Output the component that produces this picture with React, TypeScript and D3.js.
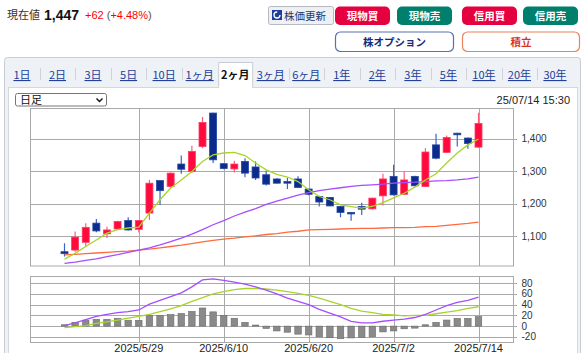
import React from "react";
import * as d3 from "d3";

// trading days shown on the 2-month daily chart
const dates = [
  "2025/5/20", "2025/5/21", "2025/5/22", "2025/5/23", "2025/5/26", "2025/5/27", "2025/5/28", "2025/5/29",
  "2025/5/30", "2025/6/2", "2025/6/3", "2025/6/4", "2025/6/5", "2025/6/6", "2025/6/9", "2025/6/10",
  "2025/6/11", "2025/6/12", "2025/6/13", "2025/6/16", "2025/6/17", "2025/6/18", "2025/6/19", "2025/6/20",
  "2025/6/23", "2025/6/24", "2025/6/25", "2025/6/26", "2025/6/27", "2025/6/30", "2025/7/1", "2025/7/2",
  "2025/7/3", "2025/7/4", "2025/7/7", "2025/7/8", "2025/7/9", "2025/7/10", "2025/7/11", "2025/7/14",
];

const opens = [
  1052, 1057, 1081, 1140, 1107, 1122, 1148, 1121, 1171, 1271, 1253, 1322, 1299, 1376, 1479, 1323,
  1307, 1330, 1313, 1289, 1276, 1268, 1276, 1245, 1222, 1219, 1191, 1173, 1191, 1184, 1224, 1284,
  1229, 1284, 1253, 1381, 1358, 1417, 1402, 1374,
];
const highs = [
  1078, 1114, 1140, 1153, 1129, 1147, 1158, 1150, 1273, 1271, 1296, 1348, 1378, 1467, 1480, 1325,
  1332, 1340, 1330, 1301, 1278, 1279, 1284, 1246, 1224, 1220, 1193, 1174, 1203, 1218, 1292, 1320,
  1299, 1286, 1371, 1415, 1410, 1418, 1404, 1480,
];
const lows = [
  1037, 1052, 1068, 1112, 1094, 1120, 1117, 1111, 1150, 1196, 1250, 1292, 1294, 1371, 1325, 1306,
  1296, 1281, 1273, 1256, 1262, 1245, 1248, 1226, 1191, 1192, 1158, 1147, 1165, 1182, 1194, 1225,
  1227, 1253, 1251, 1337, 1356, 1376, 1369, 1372,
];
const closes = [
  1046, 1097, 1127, 1116, 1119, 1145, 1119, 1148, 1263, 1240, 1294, 1306, 1361, 1450, 1335, 1308,
  1322, 1294, 1279, 1260, 1263, 1263, 1250, 1229, 1205, 1193, 1173, 1169, 1183, 1217, 1276, 1227,
  1273, 1255, 1359, 1340, 1404, 1412, 1385, 1447,
];

// moving averages
const ma5 = [
  1029, 1047, 1068, 1088, 1109, 1120, 1125, 1128, 1171, 1212, 1248, 1273, 1299, 1330, 1350, 1356,
  1358, 1348, 1325, 1304, 1290, 1282, 1268, 1243, 1222, 1212, 1196, 1191, 1186, 1192, 1203, 1218,
  1232, 1251, 1273, 1292, 1325, 1356, 1381, 1399,
];
const ma25 = [
  1016, 1020, 1025, 1030, 1037, 1043, 1050, 1057, 1064, 1073, 1083, 1094, 1106, 1120, 1135, 1148,
  1162, 1174, 1185, 1198, 1208, 1217, 1226, 1234, 1240, 1245, 1249, 1253, 1256, 1258, 1260, 1263,
  1265, 1266, 1268, 1270, 1271, 1273, 1276, 1282,
];
const ma75 = [
  1042, 1044, 1046, 1048, 1050, 1052, 1054, 1057, 1060, 1064, 1068, 1072, 1077, 1082, 1087, 1091,
  1094, 1098, 1101, 1105, 1108, 1112, 1115, 1119, 1120, 1121, 1122, 1123, 1124, 1124, 1125, 1126,
  1126, 1127, 1129, 1130, 1133, 1136, 1139, 1143,
];

// MACD panel
const macd = [
  1, 6, 12, 18, 22, 25, 27, 30, 41, 48, 55, 62, 73, 86, 88, 85,
  82, 78, 73, 67, 60, 52, 46, 40, 31, 24, 17, 9, 6, 6, 9, 11,
  13, 16, 22, 30, 38, 44, 48, 54,
];
const signal = [
  -3, -1, 1, 5, 8, 11, 15, 18, 22, 27, 32, 38, 46, 53, 60, 64,
  68, 70, 70, 69, 67, 64, 61, 57, 52, 46, 40, 33, 28, 25, 22, 21,
  19, 20, 20, 23, 26, 29, 33, 36,
];
const hist = [
  2.5, 7, 11, 12.7, 12.7, 14.6, 11, 10.8, 20, 19.7, 21.6, 23.5, 27.3, 33.7, 26.5, 20,
  14.6, 7, 2, -4.4, -9, -11.4, -15, -16.5, -20, -21.6, -23.5, -22, -21, -20, -10.8, -9,
  -5, -3.8, 2.5, 7, 11.3, 14.4, 14.4, 17.6,
];

const priceTicks = [1100, 1200, 1300, 1400];
const macdTicks = [80, 60, 40, 20, 0, -20];
const gridDates = ["2025/5/29", "2025/6/10", "2025/6/20", "2025/7/2", "2025/7/14"];
const tabs = ["1日", "2日", "3日", "5日", "10日", "1ヶ月", "2ヶ月", "3ヶ月", "6ヶ月", "1年", "2年", "3年", "5年", "10年", "20年", "30年"];
const activeTab = "2ヶ月";

const FONT = "'Liberation Sans', Arial, 'Noto Sans CJK JP', sans-serif";
const JP = "'Noto Sans CJK JP', 'Liberation Sans', sans-serif";
const UP = "#ff0a3c";
const DOWN = "#0b2c8c";
const GRID = "#a9a9a9";

const px = (v: number) => Math.round(v) + 0.5;

export default function App() {
  const left = 30, right = 513;
  const top = 108.5, bottom = 266;
  const mTop = 276.5, mBottom = 342.5;

  const x = d3.scaleLinear().domain([-3.25, 42.25]).range([left, right]);
  const y = d3.scaleLinear().domain([1008, 1493]).range([bottom, top]);
  const ym = d3.scaleLinear().domain([-30.5, 92.3]).range([mBottom, mTop]);
  const tabX = d3.scalePoint<string>().domain(tabs).range([22, 555]);

  const line = (vals: number[], sc: d3.ScaleLinear<number, number>) =>
    d3.line<number>().x((_, i) => x(i)).y((d) => sc(d))(vals) || "";

  const gridXs = gridDates.map((d) => px(x(dates.indexOf(d))));
  const bodyW = 7;
  const barW = 6.5;

  return (
    <div style={{ position: "absolute", left: 0, top: 0 }}>
      <svg width={586} height={353} style={{ display: "block", fontFamily: FONT }}>
        <rect width={586} height={353} fill="#fff" />

        {/* header */}
        <text x={7} y={19} fontSize={11} fill="#333" fontFamily={JP}>現在値</text>
        <text x={44} y={20} fontSize={14} fontWeight="bold" fill="#111">1,447</text>
        <text x={85} y={19} fontSize={11} fill="#f00">
          +62 <tspan fill="#555">(</tspan>+4.48%<tspan fill="#555">)</tspan>
        </text>

        <rect x={268.5} y={6.5} width={65} height={18} rx={2} fill="#eef0f3" stroke="#b5b9c0" />
        <rect x={272} y={10} width={10} height={10} fill="#1d3e9c" />
        <circle cx={277} cy={15} r={3} fill="none" stroke="#fff" strokeWidth={1.3} strokeDasharray="14 5" />
        <text x={284} y={19.5} fontSize={10.5} fill="#243a70" fontFamily={JP}>株価更新</text>

        {[
          { x0: 335, label: "現物買", c: "#e5003f" },
          { x0: 397, label: "現物売", c: "#007f6c" },
          { x0: 462, label: "信用買", c: "#e5003f" },
          { x0: 523, label: "信用売", c: "#007f6c" },
        ].map((b) => (
          <g key={b.label}>
            <rect x={b.x0} y={6.5} width={55} height={18.5} rx={5} fill={b.c} />
            <text x={b.x0 + 27.5} y={19.5} fontSize={10.5} fontWeight="bold" fill="#fff" textAnchor="middle" fontFamily={JP}>{b.label}</text>
          </g>
        ))}
        <rect x={335.5} y={32} width={118} height={19.5} rx={5} fill="#fff" stroke="#5b6fae" strokeWidth={1.2} />
        <text x={394.5} y={45.5} fontSize={10.5} fontWeight="bold" fill="#1c2a78" textAnchor="middle" fontFamily={JP}>株オプション</text>
        <rect x={462.5} y={32} width={117} height={19.5} rx={5} fill="#fff" stroke="#e8825f" strokeWidth={1.2} />
        <text x={521} y={45.5} fontSize={10.5} fontWeight="bold" fill="#d8361c" textAnchor="middle" fontFamily={JP}>積立</text>

        {/* panel + tabs */}
        <rect x={4.5} y={57.5} width={576} height={300} rx={3} fill="#eef1f5" stroke="#c9ccd2" />
        <rect x={8.5} y={87.5} width={569} height={270} fill="#fff" stroke="#d4d7dc" />
        {tabs.map((t, i) => {
          const cx = tabX(t) as number;
          const active = t === activeTab;
          return (
            <g key={t}>
              {active && (
                <path d={`M${cx - 16.5},88 V62.5 H${cx + 17.5} V88`} fill="#fff" stroke="#c9ccd2" />
              )}
              {active && <rect x={cx - 16} y={86} width={33} height={3} fill="#fff" />}
              <text
                x={cx}
                y={79}
                fontSize={11}
                textAnchor="middle"
                fill={active ? "#111" : "#23409a"}
                fontWeight={active ? "bold" : "normal"}
                textDecoration={active ? "none" : "underline"}
                fontFamily={JP}
              >
                {t}
              </text>
              {i < tabs.length - 1 && !active && tabs[i + 1] !== activeTab && (
                <line
                  x1={px(cx + tabX.step() / 2)}
                  x2={px(cx + tabX.step() / 2)}
                  y1={68}
                  y2={80}
                  stroke="#cfd2d8"
                />
              )}
            </g>
          );
        })}

        {/* select + timestamp */}
        <rect x={15.5} y={93.5} width={91} height={12.5} rx={2} fill="#fff" stroke="#767676" />
        <text x={20} y={104} fontSize={11} fill="#111" fontFamily={JP}>日足</text>
        <path d="M96.5,98.5 L99.5,101.5 L102.5,98.5" fill="none" stroke="#111" strokeWidth={1.4} />
        <text x={570} y={104} fontSize={11} fill="#222" textAnchor="end">25/07/14 15:30</text>

        {/* main chart grid */}
        {priceTicks.map((t) => (
          <g key={t}>
            <line x1={left} x2={right + 4} y1={px(y(t))} y2={px(y(t))} stroke={GRID} />
            <text x={521.5} y={y(t) + 3.5} fontSize={10} fill="#333">{d3.format(",")(t)}</text>
          </g>
        ))}
        {gridXs.map((gx, i) => (
          <line key={i} x1={gx} x2={gx} y1={top} y2={bottom} stroke={GRID} />
        ))}
        <rect x={px(left)} y={top} width={right - left} height={bottom - top} fill="none" stroke={GRID} />

        {/* candles */}
        {dates.map((d, i) => {
          const o = opens[i], c = closes[i];
          const upDay = c >= o;
          const cx = x(i);
          const yTop = y(Math.max(o, c));
          const yBot = y(Math.min(o, c));
          return (
            <g key={d}>
              <line x1={cx} x2={cx} y1={y(highs[i])} y2={y(lows[i])} stroke={upDay ? "#ff5c7c" : "#3d63c2"} strokeWidth={1.2} />
              <rect
                x={cx - bodyW / 2}
                y={yTop}
                width={bodyW}
                height={Math.max(1.5, yBot - yTop)}
                fill={upDay ? UP : DOWN}
                stroke={upDay ? "#ff3b63" : "#27489f"}
                strokeWidth={0.8}
              />
            </g>
          );
        })}

        {/* moving averages */}
        <path d={line(ma75, y)} fill="none" stroke="#ff6a3d" strokeWidth={1.3} />
        <path d={line(ma25, y)} fill="none" stroke="#a64dff" strokeWidth={1.3} />
        <path d={line(ma5, y)} fill="none" stroke="#a8d42a" strokeWidth={1.3} />

        {/* MACD panel */}
        {macdTicks.map((t) => (
          <g key={t}>
            <line x1={left} x2={right + 4} y1={px(ym(t))} y2={px(ym(t))} stroke={GRID} />
            <text x={521.5} y={ym(t) + 3.5} fontSize={10} fill="#333">{t}</text>
          </g>
        ))}
        {gridXs.map((gx, i) => (
          <line key={i} x1={gx} x2={gx} y1={mTop} y2={mBottom} stroke={GRID} />
        ))}
        <rect x={px(left)} y={mTop} width={right - left} height={mBottom - mTop} fill="none" stroke={GRID} />
        {hist.map((h, i) => (
          <rect
            key={i}
            x={x(i) - barW / 2}
            y={Math.min(ym(h), ym(0))}
            width={barW}
            height={Math.abs(ym(h) - ym(0))}
            fill="#8a8a8a"
            stroke="#6c6c6c"
            strokeWidth={0.6}
          />
        ))}
        <path d={line(signal, ym)} fill="none" stroke="#a8d42a" strokeWidth={1.3} />
        <path d={line(macd, ym)} fill="none" stroke="#a64dff" strokeWidth={1.3} />

        {gridDates.map((d) => (
          <text key={d} x={x(dates.indexOf(d))} y={352} fontSize={11} fill="#222" textAnchor="middle">
            {d}
          </text>
        ))}
      </svg>
    </div>
  );
}
